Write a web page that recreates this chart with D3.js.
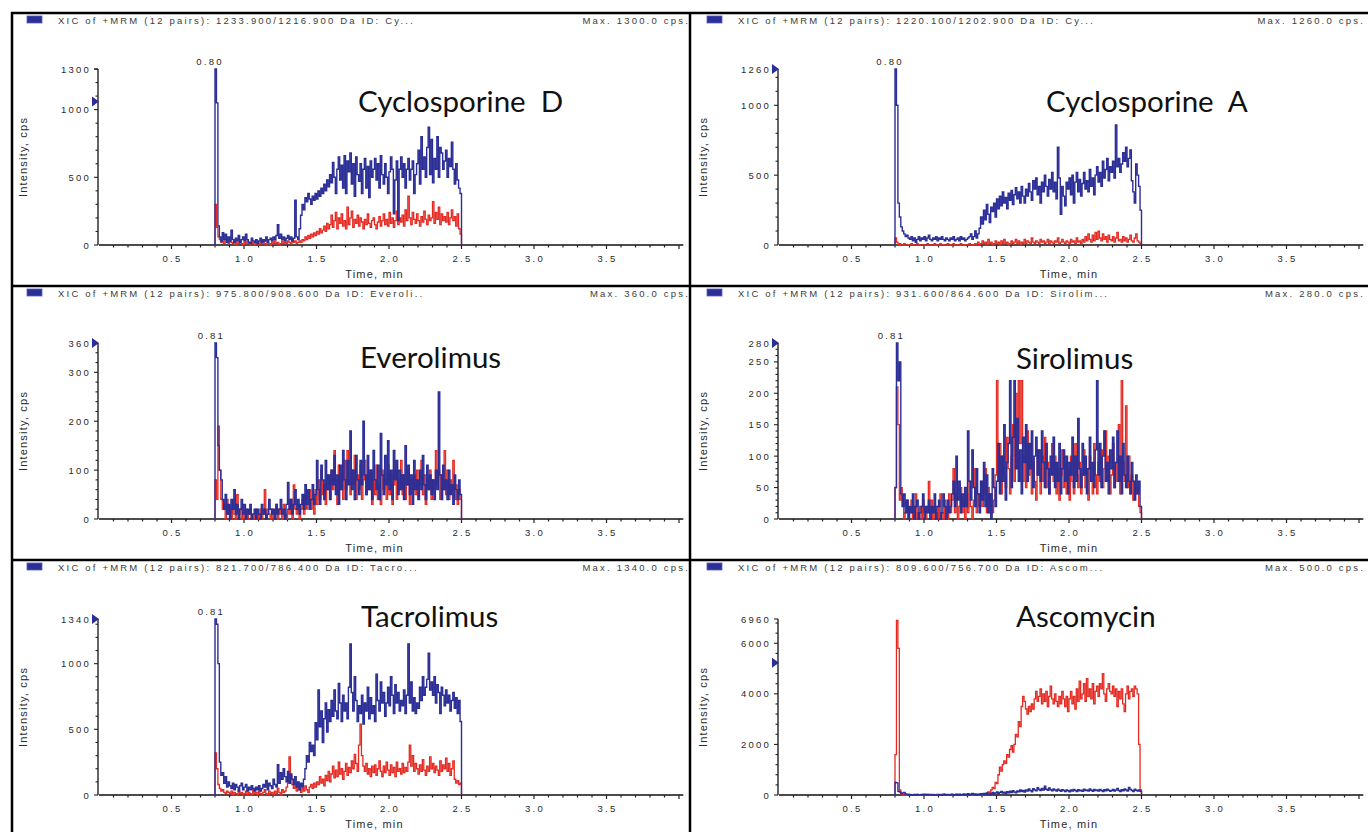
<!DOCTYPE html>
<html>
<head>
<meta charset="utf-8">
<script src="https://cdn.jsdelivr.net/npm/d3@7"></script>
<style>
  body { margin: 0; background: #fff; }
  svg text { font-family: "Liberation Sans", Arial, sans-serif; }
  .tick-label { font-size: 9.5px; letter-spacing: 2.2px; fill: #2a2a2a; }
  .hdr { font-size: 9.5px; letter-spacing: 2.2px; fill: #3c3c3c; }
  .axis-title { font-size: 11px; letter-spacing: 1.2px; fill: #2a2a2a; }
  .compound { font-family: Lato, "Open Sans", sans-serif; font-size: 29.5px; fill: #111; white-space: pre; }
</style>
</head>
<body>
<script>
// scans: first at 0.79 min, then one every 0.01 min up to 2.50 min
const scanStart = 0.79, scanStep = 0.01;

const compounds = ["Cyclosporine  D", "Cyclosporine  A", "Everolimus", "Sirolimus", "Tacrolimus", "Ascomycin"];
const transitions = ["1233.900/1216.900", "1220.100/1202.900", "975.800/908.600", "931.600/864.600", "821.700/786.400", "809.600/756.700"];
const idShort = ["Cy...", "Cy...", "Everoli..", "Sirolim...", "Tacro...", "Ascom..."];
const maxCps = ["1300.0", "1260.0", "360.0", "280.0", "1340.0", "500.0"];
const yTop = [1300, 1260, 360, 280, 1340, 6960];
const yTicks = [[0, 500, 1000], [0, 500, 1000], [0, 100, 200, 300], [0, 50, 100, 150, 200, 250], [0, 500, 1000], [0, 2000, 4000, 6000]];
const yMinor = [100, 100, 20, 10, 100, 400];
const peakLabels = ["0.80", "0.80", "0.81", "0.81", "0.81", null];
const peakTimes = [0.80, 0.80, 0.81, 0.81, 0.81, null];
const markerCps = [1060, 1260, 360, 280, 1340, 5230];
const xTicks = [0.5, 1.0, 1.5, 2.0, 2.5, 3.0, 3.5];

// ---- traces (cps per scan) ----
const cycloDBlue = [
  0, 1300, 1050, 140, 60, 30, 90, 40, 80, 20,
  60, 30, 110, 40, 20, 50, 30, 70, 20, 40,
  60, 30, 80, 40, 20, 10, 50, 30, 20, 40,
  10, 30, 50, 20, 40, 30, 60, 20, 40, 50,
  30, 60, 40, 70, 150, 50, 80, 40, 60, 30,
  50, 70, 40, 60, 30, 50, 330, 60, 40, 120,
  220, 300, 260, 350, 320, 380, 340, 300, 360, 330,
  380, 340, 400, 360, 420, 380, 450, 400, 480, 430,
  520, 460, 610, 500, 380, 560, 650, 480, 590, 420,
  660, 380, 620, 540, 680, 450, 600, 360, 650, 520,
  470, 600, 380, 560, 640, 420, 580, 350, 620, 500,
  560, 640, 480, 600, 420, 660, 520, 450, 600, 500,
  380, 540, 650, 560, 230, 480, 620, 180, 560, 650,
  500, 600, 420, 560, 640, 480, 560, 620, 380, 520,
  600, 700, 450, 800, 560, 650, 500, 720, 870, 520,
  780, 460, 640, 560, 800, 500, 720, 680, 560, 620,
  700, 500, 640, 580, 760, 560, 450, 600, 480, 420,
  380, 0];
const cycloDRed = [
  0, 300, 130, 60, 40, 20, 30, 10, 40, 20,
  10, 30, 20, 10, 30, 0, 20, 10, 30, 10,
  0, 20, 10, 30, 10, 0, 20, 10, 0, 20,
  10, 0, 20, 10, 30, 10, 0, 20, 10, 0,
  20, 10, 30, 10, 20, 0, 10, 30, 10, 20,
  10, 30, 20, 10, 40, 20, 30, 10, 20, 30,
  20, 40, 30, 60, 40, 70, 50, 80, 60, 90,
  70, 100, 80, 120, 90, 110, 140, 100, 160, 120,
  150, 220, 130, 180, 240, 120, 200, 160, 230, 140,
  180, 120, 280, 150, 200, 250, 130, 190, 160, 220,
  140, 200, 170, 120, 190, 150, 230, 160, 130, 180,
  200, 150, 120, 170, 210, 140, 180, 230, 150, 190,
  140, 240, 160, 200, 130, 180, 250, 150, 200, 170,
  220, 140, 260, 180, 360, 200, 150, 240, 190, 160,
  230, 180, 140, 210, 170, 250, 190, 150, 220, 180,
  200, 320, 160, 240, 190, 280, 150, 230, 180, 210,
  170, 240, 150, 200, 260, 180, 210, 140, 230, 120,
  80, 0];

const cycloABlue = [
  0, 1260, 1000, 300, 200, 130, 100, 80, 60, 70,
  50, 40, 60, 30, 50, 20, 40, 60, 30, 50,
  40, 60, 30, 50, 70, 40, 30, 50, 40, 60,
  30, 50, 40, 60, 40, 30, 50, 40, 30, 50,
  40, 60, 30, 40, 50, 30, 60, 40, 50, 30,
  40, 50, 60, 80, 40, 60, 100, 50, 80, 120,
  200, 150, 250, 180, 290, 220, 160, 270, 240, 300,
  200, 330, 260, 350, 280, 380, 300, 340, 260, 370,
  320, 390, 290, 360, 410, 330, 380, 300, 420, 350,
  300, 400, 350, 440, 380, 320, 460, 400, 480, 360,
  420, 300, 450, 380, 500, 420, 350, 470, 400, 520,
  380, 450, 330, 700, 480, 220, 420, 350, 280, 450,
  400, 480, 360, 500, 300, 450, 520, 380, 470, 350,
  440, 520, 400, 460, 380, 540, 420, 480, 360, 500,
  560, 450, 520, 420, 600, 480, 540, 620, 460, 560,
  520, 600, 480, 860, 560, 620, 520, 580, 660, 600,
  700, 560, 620, 680, 460, 380, 300, 580, 500, 420,
  250, 0];
const cycloARed = [
  0, 50, 20, 0, 10, 0, 0, 10, 0, 0,
  0, 0, 10, 0, 0, 0, 10, 0, 0, 0,
  0, 0, 0, 10, 0, 0, 0, 0, 10, 0,
  0, 0, 10, 0, 0, 0, 0, 10, 0, 0,
  0, 10, 0, 0, 0, 0, 10, 0, 0, 0,
  0, 0, 10, 0, 0, 0, 10, 0, 20, 0,
  10, 30, 10, 20, 0, 40, 10, 20, 0, 10,
  30, 10, 20, 0, 30, 10, 40, 10, 20, 0,
  10, 30, 10, 20, 40, 10, 30, 0, 20, 10,
  40, 10, 30, 20, 10, 50, 20, 10, 30, 20,
  10, 40, 20, 30, 10, 20, 40, 10, 30, 20,
  10, 30, 20, 50, 10, 20, 40, 20, 10, 30,
  20, 10, 40, 20, 30, 10, 50, 20, 30, 10,
  40, 20, 60, 30, 80, 40, 20, 70, 30, 90,
  40, 100, 50, 30, 80, 40, 60, 20, 70, 40,
  30, 60, 20, 50, 90, 30, 40, 20, 60, 30,
  50, 20, 40, 70, 30, 20, 50, 80, 30, 20,
  10, 0];

const everoBlue = [
  0, 360, 330, 150, 100, 80, 40, 20, 50, 10,
  30, 0, 40, 20, 60, 10, 30, 0, 20, 40,
  10, 30, 0, 20, 10, 30, 0, 10, 20, 0,
  20, 10, 0, 30, 10, 20, 0, 10, 40, 20,
  10, 20, 0, 30, 10, 20, 40, 10, 20, 0,
  30, 75, 20, 40, 10, 30, 60, 20, 40, 10,
  30, 50, 20, 70, 30, 60, 20, 40, 70, 30,
  50, 120, 60, 30, 110, 80, 40, 120, 60, 90,
  40, 100, 70, 130, 50, 90, 30, 110, 60, 140,
  80, 40, 120, 70, 180, 60, 100, 40, 130, 80,
  50, 120, 70, 200, 90, 50, 130, 60, 100, 40,
  140, 80, 60, 110, 40, 175, 90, 50, 130, 70,
  160, 60, 100, 40, 140, 80, 120, 50, 100, 60,
  90, 40, 150, 70, 110, 50, 90, 30, 120, 60,
  80, 40, 100, 60, 130, 70, 40, 110, 60, 90,
  50, 80, 40, 100, 60, 260, 90, 40, 110, 60,
  80, 40, 100, 50, 70, 30, 90, 60, 40, 80,
  50, 0];
const everoRed = [
  0, 80, 40, 190, 100, 40, 20, 30, 0, 40,
  10, 20, 0, 30, 10, 0, 50, 10, 20, 0,
  10, 0, 20, 0, 10, 20, 0, 10, 0, 20,
  0, 10, 20, 0, 10, 60, 0, 20, 10, 0,
  20, 0, 10, 30, 0, 20, 10, 0, 30, 10,
  0, 20, 10, 40, 0, 70, 20, 10, 30, 0,
  20, 40, 10, 50, 20, 30, 60, 20, 40, 10,
  60, 30, 80, 40, 100, 50, 70, 30, 90, 60,
  40, 100, 60, 140, 80, 30, 110, 60, 90, 40,
  120, 60, 140, 80, 50, 100, 70, 130, 40, 90,
  60, 110, 40, 80, 120, 50, 90, 60, 100, 30,
  80, 50, 110, 40, 70, 30, 100, 60, 80, 40,
  110, 50, 90, 30, 70, 100, 40, 80, 60, 120,
  50, 90, 40, 70, 100, 30, 80, 60, 90, 50,
  100, 40, 70, 120, 50, 90, 30, 80, 60, 100,
  40, 80, 60, 140, 70, 100, 40, 90, 60, 140,
  50, 100, 40, 80, 60, 120, 40, 70, 30, 60,
  40, 0];

const siroBlue = [
  0, 50, 280, 220, 250, 40, 20, 40, 10, 30,
  0, 20, 10, 40, 0, 20, 30, 0, 10, 20,
  40, 0, 20, 10, 30, 0, 20, 10, 40, 0,
  20, 30, 0, 10, 40, 20, 0, 30, 10, 20,
  40, 60, 20, 100, 30, 60, 10, 40, 20, 50,
  20, 140, 60, 30, 110, 50, 20, 80, 40, 10,
  60, 30, 90, 20, 70, 10, 40, 0, 80, 50,
  20, 60, 120, 40, 100, 60, 150, 30, 90, 120,
  220, 50, 130, 220, 80, 160, 60, 110, 40, 130,
  90, 150, 60, 120, 80, 140, 50, 100, 130, 70,
  110, 60, 140, 90, 50, 120, 80, 40, 100, 70,
  130, 50, 90, 60, 120, 40, 80, 110, 60, 100,
  40, 90, 70, 130, 50, 100, 60, 160, 80, 50,
  120, 70, 100, 40, 80, 130, 60, 90, 50, 110,
  220, 70, 120, 50, 100, 140, 60, 90, 40, 110,
  80, 130, 50, 90, 140, 60, 100, 40, 120, 70,
  50, 100, 60, 40, 90, 60, 30, 70, 40, 60,
  20, 0];
const siroRed = [
  0, 50, 210, 150, 30, 50, 20, 0, 10, 30,
  0, 10, 30, 0, 20, 40, 0, 10, 20, 0,
  30, 10, 0, 20, 60, 10, 30, 0, 20, 10,
  0, 20, 40, 10, 0, 30, 20, 0, 40, 10,
  30, 80, 10, 40, 0, 20, 50, 10, 30, 0,
  40, 10, 60, 20, 0, 30, 80, 10, 40, 20,
  60, 20, 40, 80, 10, 50, 20, 40, 10, 30,
  70, 220, 60, 120, 40, 100, 70, 50, 130, 80,
  40, 100, 150, 60, 200, 80, 220, 120, 220, 60,
  100, 50, 140, 70, 120, 40, 90, 60, 30, 110,
  70, 40, 100, 60, 130, 50, 90, 40, 80, 120,
  60, 100, 40, 80, 30, 70, 110, 50, 90, 40,
  80, 30, 100, 60, 40, 120, 70, 50, 90, 40,
  70, 110, 50, 80, 30, 100, 60, 40, 120, 70,
  40, 90, 60, 110, 50, 80, 140, 60, 100, 40,
  70, 120, 50, 90, 60, 150, 40, 220, 90, 60,
  180, 50, 100, 40, 70, 30, 60, 40, 50, 20,
  10, 0];

const tacroBlue = [
  0, 1340, 1300, 1000, 250, 150, 170, 90, 140, 60,
  100, 70, 50, 90, 40, 80, 60, 30, 70, 90,
  40, 60, 80, 30, 60, 40, 70, 50, 30, 60,
  40, 70, 30, 50, 80, 60, 110, 40, 90, 70,
  50, 120, 80, 60, 230, 90, 170, 120, 200, 140,
  100, 180, 90, 160, 120, 80, 140, 60, 100, 40,
  90, 60, 120, 200, 300, 250, 400, 330, 380, 300,
  550, 420, 800, 520, 640, 400, 580, 700, 480, 650,
  560, 720, 600, 800, 640, 580, 850, 700, 560, 760,
  640, 700, 580, 820, 1150, 780, 640, 900, 720, 560,
  680, 620, 760, 540, 700, 640, 820, 580, 740, 620,
  680, 560, 920, 720, 640, 860, 700, 780, 600, 700,
  820, 680, 900, 760, 620, 840, 700, 780, 640, 720,
  680, 800, 620, 760, 1150, 700, 860, 640, 740, 620,
  700, 660, 820, 720, 900, 760, 820, 880, 1080, 800,
  860, 760, 900, 700, 840, 780, 620, 820, 760, 680,
  800, 700, 760, 640, 720, 780, 660, 740, 620, 720,
  560, 0];
const tacroRed = [
  0, 320, 200, 80, 50, 30, 40, 20, 10, 30,
  20, 10, 30, 0, 20, 10, 0, 30, 10, 20,
  0, 10, 30, 0, 20, 10, 0, 40, 10, 20,
  0, 30, 10, 0, 20, 40, 10, 0, 30, 10,
  20, 0, 30, 10, 50, 20, 0, 40, 20, 30,
  60, 100, 290, 150, 80, 50, 70, 30, 60, 40,
  20, 50, 30, 70, 40, 20, 60, 80, 50, 90,
  60, 100, 80, 140, 90, 120, 70, 150, 110, 180,
  100, 160, 220, 130, 190, 140, 250, 160, 200, 120,
  180, 240, 150, 210, 170, 260, 200, 310, 240, 180,
  380, 540, 300, 220, 180, 240, 160, 200, 140, 220,
  170, 230, 150, 200, 260, 180, 140, 220, 170, 250,
  190, 150, 230, 170, 210, 140, 250, 180, 200, 160,
  240, 170, 210, 180, 250, 380, 220, 300, 180, 240,
  200, 160, 230, 180, 270, 190, 150, 220, 180, 290,
  200, 240, 170, 220, 190, 150, 260, 180, 230, 200,
  280, 180, 240, 150, 200, 260, 120, 90, 110, 80,
  90, 0];

const ascoBlue = [
  0, 500, 480, 150, 120, 60, 80, 100, 40, 30,
  20, 0, 10, 0, 20, 0, 10, 0, 0, 20,
  0, 30, 0, 10, 0, 20, 0, 0, 10, 0,
  20, 0, 10, 0, 30, 0, 10, 20, 0, 0,
  30, 0, 10, 20, 0, 30, 0, 10, 40, 0,
  20, 50, 0, 30, 60, 10, 40, 0, 30, 20,
  50, 20, 60, 10, 80, 40, 20, 60, 100, 40,
  80, 120, 60, 100, 140, 80, 110, 60, 130, 90,
  150, 100, 170, 120, 90, 160, 130, 200, 140, 180,
  120, 200, 160, 240, 180, 130, 250, 200, 170, 290,
  220, 180, 260, 200, 350, 230, 190, 280, 210, 170,
  240, 200, 160, 230, 190, 150, 210, 180, 140, 200,
  170, 130, 200, 160, 220, 180, 140, 210, 170, 190,
  150, 230, 180, 200, 160, 240, 190, 150, 220, 180,
  200, 160, 220, 180, 140, 210, 170, 230, 190, 150,
  180, 220, 160, 200, 260, 180, 140, 210, 170, 240,
  200, 160, 300, 220, 180, 140, 230, 190, 160, 200,
  150, 0];
const ascoRed = [
  0, 1600, 6900, 5800, 200, 40, 0, 20, 0, 10,
  0, 20, 0, 0, 10, 0, 30, 0, 10, 0,
  20, 0, 0, 30, 0, 10, 0, 20, 0, 0,
  10, 0, 20, 0, 0, 30, 0, 10, 0, 20,
  0, 10, 0, 30, 0, 0, 20, 0, 10, 0,
  30, 0, 10, 0, 40, 0, 20, 10, 0, 30,
  20, 0, 40, 10, 60, 120, 80, 200, 300, 250,
  500, 450, 800, 1100, 950, 1200, 1350, 1250, 1600, 1500,
  1800, 1950, 1700, 2000, 2400, 2300, 2900, 2700, 3500, 3900,
  3700, 3400, 3200, 3500, 3300, 3600, 3400, 3800, 4100, 3700,
  3900, 4200, 3600, 4000, 3700, 4100, 3500, 3900, 4300, 3800,
  3600, 4000, 3700, 3500, 3900, 3600, 4100, 3800, 3500, 3900,
  3300, 3800, 4100, 3600, 3900, 3400, 4200, 3700, 4500, 3800,
  4000, 4400, 3700, 4600, 3900, 4200, 3800, 4400, 3600, 4100,
  4300, 3900, 4400, 4200, 4800, 4000, 3700, 4200, 4400, 4100,
  4000, 4300, 3900, 4200, 3500, 4100, 3800, 4200, 3600, 3300,
  4000, 4300, 3800, 4100, 4200, 3900, 4300, 4200, 4000, 2000,
  200, 0];

const blueTraces = [cycloDBlue, cycloABlue, everoBlue, siroBlue, tacroBlue, ascoBlue];
const redTraces = [cycloDRed, cycloARed, everoRed, siroRed, tacroRed, ascoRed];

// ---- layout ----
const W = 1368, H = 832;
const colOff = [0, 680];
const rowBorder = [13, 286, 560];
const rowBottom = [245, 519, 795];
const plotH = 176;
const titlePos = [[358, 112], [1046, 112], [360, 368], [1016, 369], [361, 627], [1016, 627]];
const blue = "#2b2e96", red = "#e42a22";

const svg = d3.select("body").append("svg").attr("width", W).attr("height", H);

compounds.forEach(function (name, p) {
  const col = p % 2, row = Math.floor(p / 2);
  const ox = colOff[col];
  const bottom = rowBottom[row];
  const g = svg.append("g");

  const x = d3.scaleLinear().domain([0, 4]).range([99 + ox, 679 + ox]);
  const y = d3.scaleLinear().domain([0, yTop[p]]).range([bottom, bottom - plotH]);

  // header line
  const hy = rowBorder[row];
  g.append("rect").attr("x", 27 + ox).attr("y", hy + 3).attr("width", 15).attr("height", 7)
    .attr("fill", blue).attr("stroke", "#5a5cc0").attr("stroke-width", 0.8);
  g.append("text").attr("class", "hdr").attr("x", 58 + ox).attr("y", hy + 11)
    .text("XIC of +MRM (12 pairs): " + transitions[p] + " Da ID: " + idShort[p]);
  g.append("text").attr("class", "hdr").attr("x", Math.min(690 + ox, W - 3)).attr("y", hy + 11)
    .attr("text-anchor", "end").text("Max. " + maxCps[p] + " cps.");

  // x axis
  const xa = g.append("g").attr("transform", "translate(0," + bottom + ")");
  xa.append("line").attr("x1", x(0)).attr("x2", x(4.03)).attr("stroke", "#111").attr("stroke-width", 1.3);
  xa.selectAll(".xm").data(d3.range(1, 41).map(function (k) { return k / 10; })).enter()
    .append("line").attr("x1", d => x(d)).attr("x2", d => x(d))
    .attr("y1", 0).attr("y2", d => (Math.round(d * 10) % 5 === 0 ? 4 : 2.5))
    .attr("stroke", "#222").attr("stroke-width", 1.2);
  xa.selectAll(".xl").data(xTicks).enter().append("text").attr("class", "tick-label")
    .attr("x", d => x(d) + 1).attr("y", 17).attr("text-anchor", "middle").text(d => d.toFixed(1));
  xa.append("text").attr("class", "axis-title").attr("x", x(col ? 2.0 : 1.9)).attr("y", 33)
    .attr("text-anchor", "middle").text("Time, min");

  // y axis
  const ya = g.append("g").attr("transform", "translate(" + (x(0) - 1) + ",0)");
  ya.append("line").attr("y1", y(0)).attr("y2", y(yTop[p])).attr("stroke", "#111").attr("stroke-width", 1.3);
  const minors = d3.range(0, yTop[p] + 1, yMinor[p]).concat([yTop[p]]);
  ya.selectAll(".ym").data(minors).enter().append("line")
    .attr("y1", d => y(d)).attr("y2", d => y(d))
    .attr("x1", d => (yTicks[p].indexOf(d) >= 0 || d === yTop[p]) ? -4 : -2.5).attr("x2", 0)
    .attr("stroke", "#222").attr("stroke-width", 1.1);
  ya.selectAll(".yl").data(yTicks[p].concat([yTop[p]])).enter().append("text").attr("class", "tick-label")
    .attr("x", -7).attr("y", d => y(d) + 3.5).attr("text-anchor", "end").text(d => d);
  ya.append("text").attr("class", "axis-title")
    .attr("transform", "translate(" + (23 + ox - (x(0) - 1)) + "," + (bottom - plotH / 2) + ") rotate(-90)")
    .attr("text-anchor", "middle").attr("dy", "0.35em").text("Intensity, cps");
  // max marker
  ya.append("path")
    .attr("d", "M-6," + (y(markerCps[p]) - 5) + "L1," + y(markerCps[p]) + "L-6," + (y(markerCps[p]) + 5) + "Z")
    .attr("fill", blue);

  // traces
  const line = d3.line()
    .x((d, i) => x(scanStart + i * scanStep))
    .y(d => y(d))
    .curve(d3.curveStepAfter);
  g.append("path").datum(redTraces[p]).attr("d", line)
    .attr("fill", "none").attr("stroke", red).attr("stroke-width", 1.3);
  g.append("path").datum(blueTraces[p]).attr("d", line)
    .attr("fill", "none").attr("stroke", blue).attr("stroke-width", 1.4);

  if (peakLabels[p]) {
    const pk = d3.max(blueTraces[p]);
    g.append("text").attr("class", "tick-label").attr("x", x(peakTimes[p]) - 5)
      .attr("y", y(pk) - 4).attr("text-anchor", "middle").text(peakLabels[p]);
  }

  // compound name
  g.append("text").attr("class", "compound").attr("x", titlePos[p][0]).attr("y", titlePos[p][1]).text(name);
});

// panel borders
const borders = svg.append("g").attr("stroke", "#000").attr("stroke-width", 2.5);
rowBorder.forEach(function (b) {
  borders.append("line").attr("x1", 11).attr("x2", W).attr("y1", b).attr("y2", b);
});
[12, 690].forEach(function (bx) {
  borders.append("line").attr("x1", bx).attr("x2", bx).attr("y1", 12).attr("y2", H);
});
</script>
</body>
</html>
